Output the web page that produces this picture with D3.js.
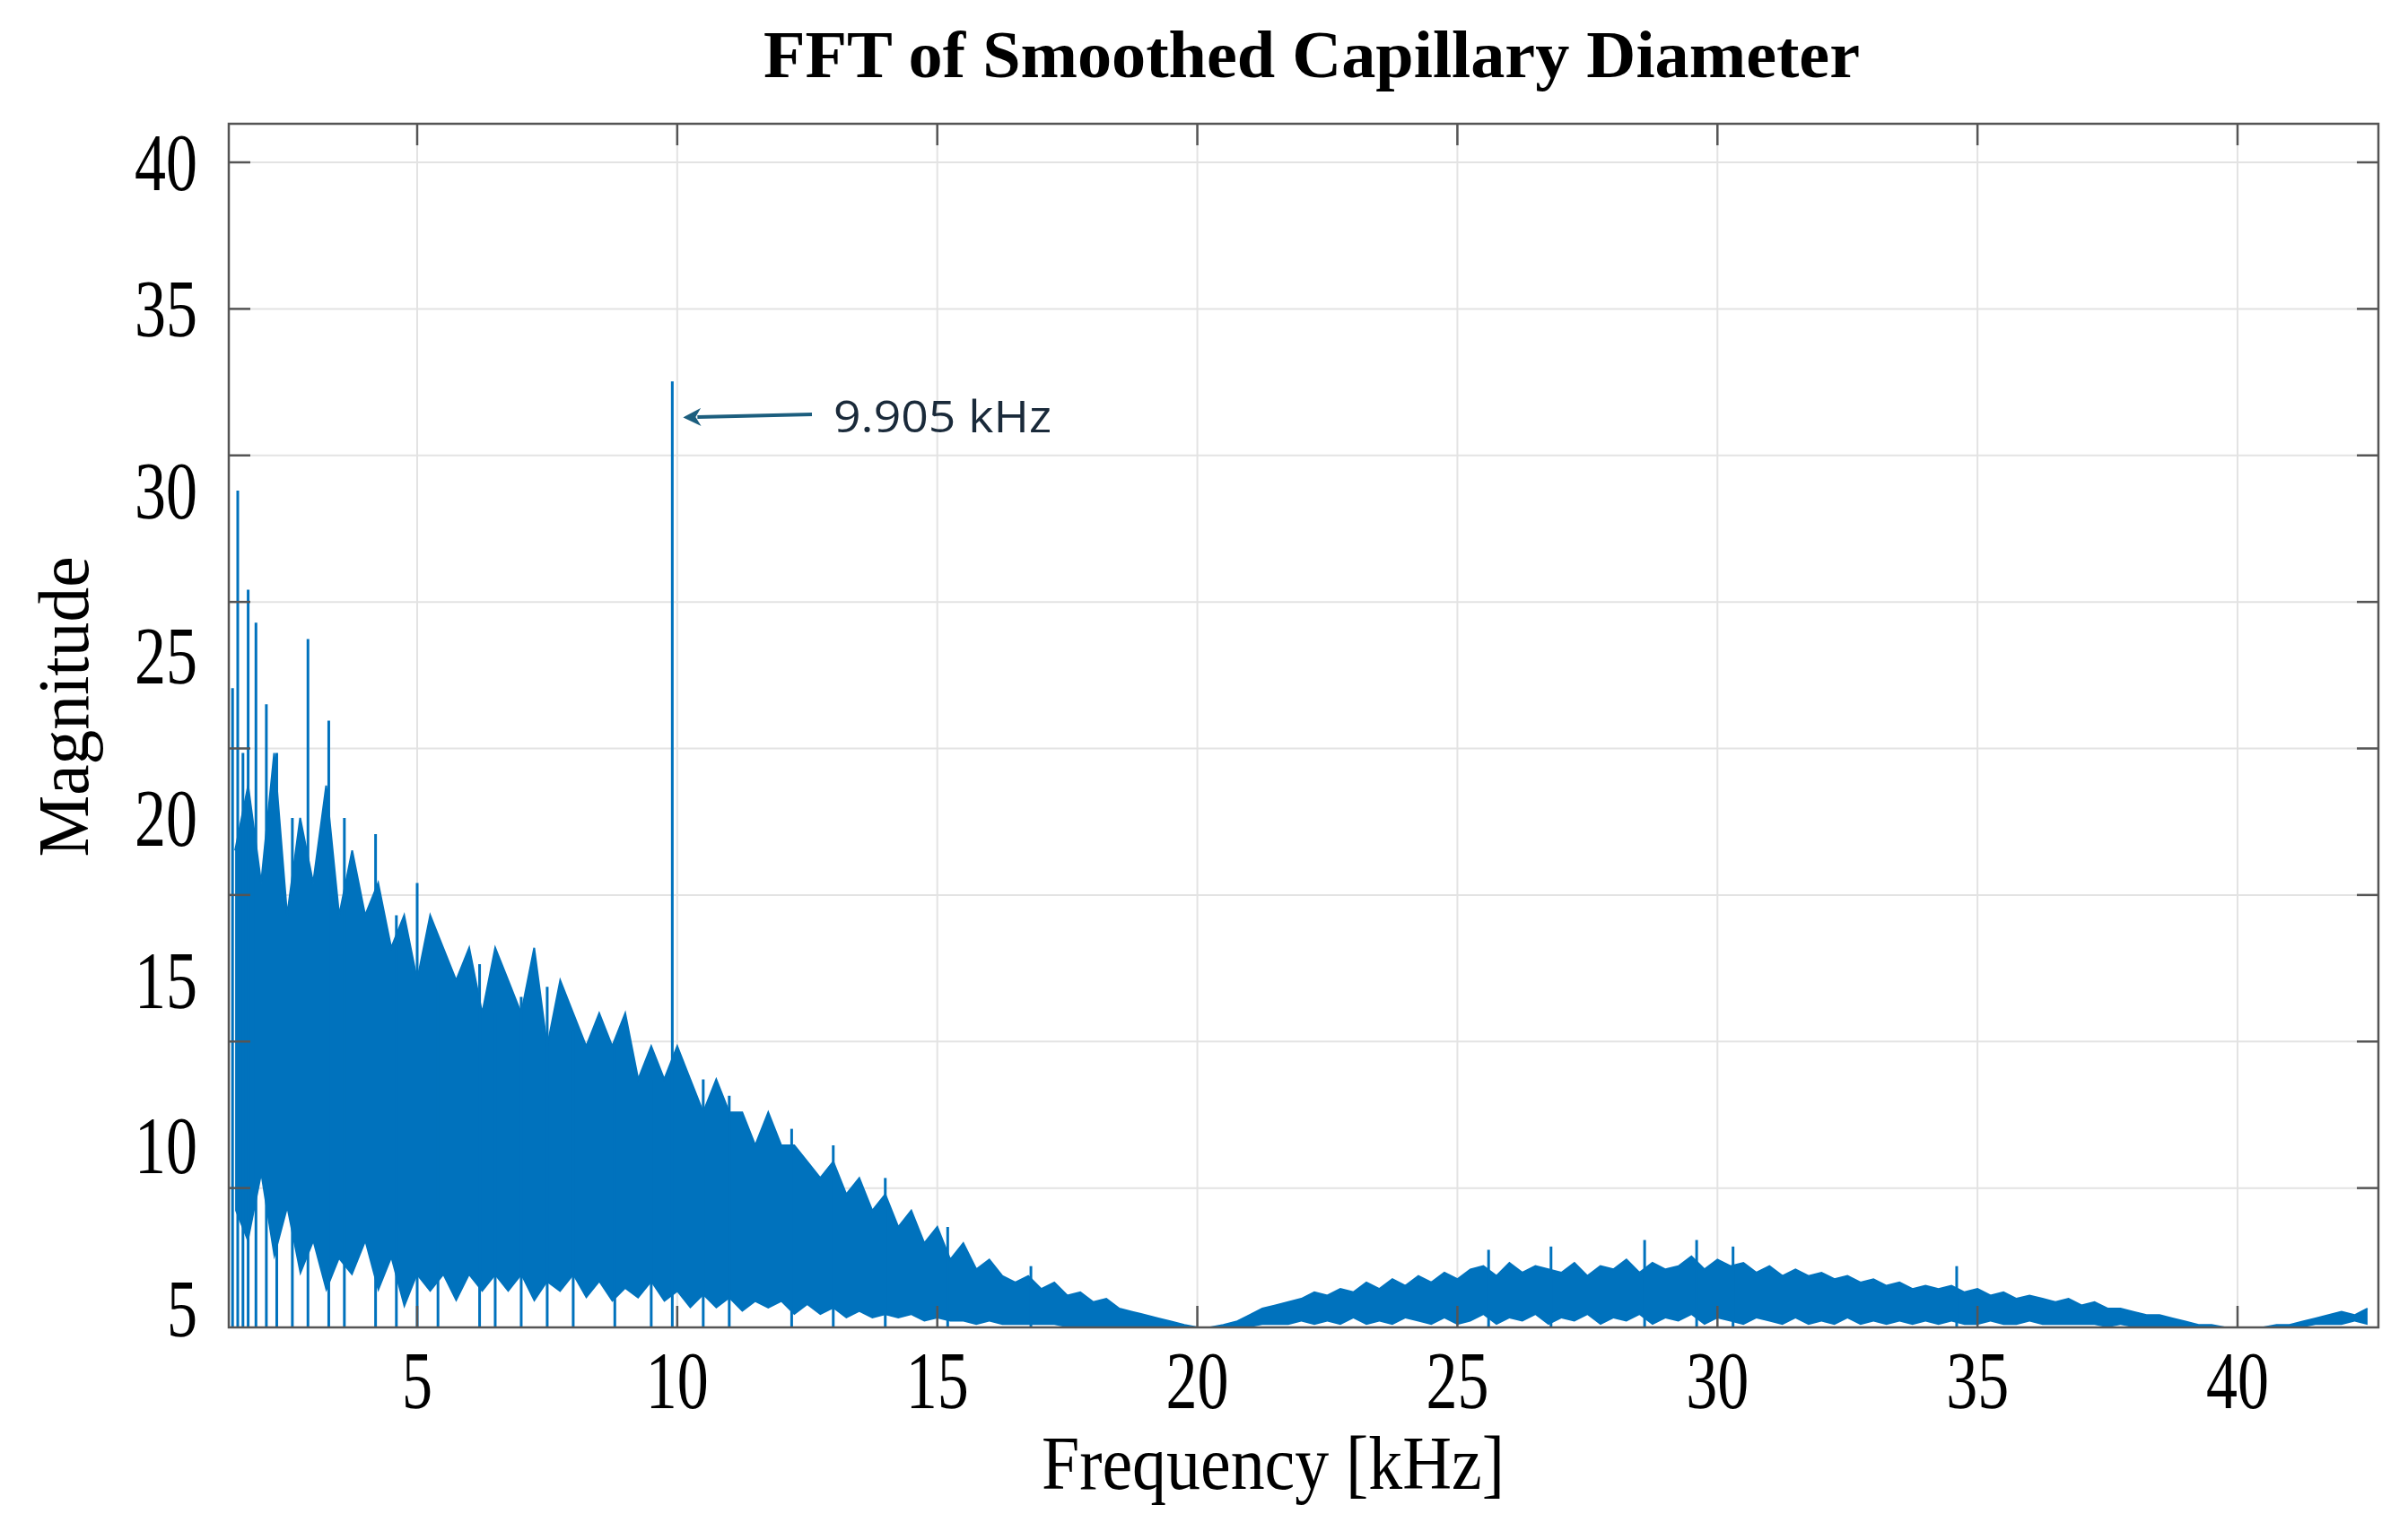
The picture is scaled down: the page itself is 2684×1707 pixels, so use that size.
<!DOCTYPE html>
<html><head><meta charset="utf-8">
<script src="https://cdn.jsdelivr.net/npm/d3@7/dist/d3.min.js"></script>
<style>body{margin:0;background:#fff}</style></head>
<body><svg id="c" width="2684" height="1707"></svg>
<script>
const xTicks=[5,10,15,20,25,30,35,40];
const yTicks=[5,10,15,20,25,30,35,40];
const fStart=1.5, fStep=0.25;
const highEnv=[19,21,18,22,17,20,18,21,17,19,17,
18,16,17,15,17,16,15,16,14,16,
15,14,16,13,15,14,13,14,13,14,
12,13,12,13,12,11,12,11,11,10,
11,10,10,9.5,9,9.5,8.5,9,8,8.5,
7.5,8,7,7.5,6.5,7,6.2,6.5,6,5.8,
6,5.6,5.8,5.4,5.5,5.2,5.3,5,4.9,4.8,
4.7,4.6,4.5,4.4,4.4,4.5,4.6,4.8,5,5.1,
5.2,5.3,5.5,5.4,5.6,5.5,5.8,5.6,5.9,5.7,
6,5.8,6.1,5.9,6.2,6.3,6,6.4,6.1,6.3,
6.2,6.1,6.4,6,6.3,6.2,6.5,6.1,6.4,6.2,
6.3,6.6,6.2,6.5,6.3,6.4,6.1,6.3,6,6.2,
6,6.1,5.9,6,5.8,5.9,5.7,5.8,5.6,5.7,
5.6,5.7,5.5,5.6,5.4,5.5,5.3,5.4,5.3,5.2,
5.3,5.1,5.2,5,5,4.9,4.8,4.8,4.7,4.6,
4.5,4.5,4.4,4.4,4.4,4.4,4.5,4.5,4.6,4.7,
4.8,4.9,4.8,5];
const lowEnv=[8,7,9,6.5,8,6,7,5.5,6.5,6,7,
5.5,6.5,5,6,5.5,6,5.2,6,5.5,6,
5.5,6,5.2,5.8,5.5,6,5.3,5.8,5.2,5.6,
5.3,5.8,5.2,5.5,5,5.4,5,5.3,4.9,5.2,
5,5.2,4.8,5.1,4.8,5,4.7,4.9,4.7,4.8,
4.7,4.8,4.6,4.7,4.6,4.6,4.5,4.6,4.5,4.5,
4.5,4.5,4.5,4.4,4.4,4.4,4.4,4.4,4.4,4.4,
4.4,4.4,4.4,4.4,4.4,4.4,4.4,4.4,4.5,4.5,
4.5,4.6,4.5,4.6,4.5,4.7,4.5,4.6,4.5,4.7,
4.6,4.5,4.7,4.5,4.6,4.8,4.5,4.7,4.6,4.8,
4.5,4.7,4.6,4.8,4.5,4.7,4.6,4.8,4.5,4.7,
4.6,4.8,4.5,4.7,4.6,4.5,4.7,4.6,4.5,4.7,
4.5,4.6,4.5,4.7,4.5,4.6,4.5,4.6,4.5,4.6,
4.5,4.6,4.5,4.5,4.6,4.5,4.5,4.6,4.5,4.5,
4.5,4.5,4.5,4.4,4.5,4.4,4.4,4.4,4.4,4.4,
4.4,4.4,4.4,4.4,4.4,4.4,4.4,4.4,4.4,4.5,
4.5,4.5,4.6,4.5];
const spikeF=[1.45,1.55,1.65,1.75,1.9,2.1,2.3,2.6,2.9,3.3,3.6,4.2,4.6,5.0,5.4,6.2,6.5,7.0,7.5,8.0,8.8,9.5,9.905,10.5,11.0,12.2,13.0,14.0,15.2,16.8,25.6,26.8,28.6,29.6,30.3,34.6];
const spikeV=[24,30,22,27,26,23.5,22,20,25.5,23,20,19.5,17,18,15,15.5,14,14.5,14.8,13.5,13,12,33,12,11.5,10.5,10,9,7.5,6.3,6.8,6.9,7.1,7.1,6.9,6.3];
const annotation="9.905 kHz";

const svg=d3.select("#c");
const L=255,R=2651,T=138,B=1480;
const x=d3.scaleLinear().domain([5,40]).range([465,2494]);
const yGrid=d3.scaleLinear().domain([0,40]).range([1488,181]);
const yLab=d3.scaleLinear().domain(yTicks).range([1459,1277,1093,912,731,547,344,181]);
const y=v=>Math.min(B,yLab(v));
const blue="#0072BD";

svg.append("g").selectAll("line").data(xTicks).join("line")
 .attr("x1",d=>x(d)).attr("x2",d=>x(d)).attr("y1",T).attr("y2",B).attr("stroke","#e3e3e3").attr("stroke-width",2);
svg.append("g").selectAll("line").data(yTicks).join("line")
 .attr("y1",d=>yGrid(d)).attr("y2",d=>yGrid(d)).attr("x1",L).attr("x2",R).attr("stroke","#e3e3e3").attr("stroke-width",2);

const pts=highEnv.map((h,i)=>({f:fStart+i*fStep,h,l:lowEnv[i]}));
svg.append("clipPath").attr("id","cp").append("rect").attr("x",L).attr("y",T).attr("width",R-L).attr("height",B-T);
const g=svg.append("g").attr("clip-path","url(#cp)");
g.append("path").datum(pts).attr("fill",blue)
 .attr("d",d3.area().x(d=>x(d.f)).y0(d=>y(d.l)).y1(d=>y(d.h)));
g.append("path").datum(pts).attr("fill","none").attr("stroke",blue).attr("stroke-width",2)
 .attr("d",d3.line().x(d=>x(d.f)).y(d=>y(d.h)));
g.selectAll("line.sp").data(spikeF).join("line").attr("class","sp")
 .attr("x1",d=>x(d)).attr("x2",d=>x(d)).attr("y1",B).attr("y2",(d,i)=>y(spikeV[i]))
 .attr("stroke",blue).attr("stroke-width",3);

svg.append("rect").attr("x",L).attr("y",T).attr("width",R-L).attr("height",B-T).attr("fill","none").attr("stroke","#555").attr("stroke-width",2.5);
const tk=svg.append("g").attr("stroke","#555").attr("stroke-width",2.5);
xTicks.forEach(d=>{tk.append("line").attr("x1",x(d)).attr("x2",x(d)).attr("y1",B).attr("y2",B-24);
 tk.append("line").attr("x1",x(d)).attr("x2",x(d)).attr("y1",T).attr("y2",T+24);});
yTicks.forEach(d=>{tk.append("line").attr("y1",yGrid(d)).attr("y2",yGrid(d)).attr("x1",L).attr("x2",L+24);
 tk.append("line").attr("y1",yGrid(d)).attr("y2",yGrid(d)).attr("x1",R).attr("x2",R-24);});

const serif="'Liberation Serif','Times New Roman',serif";
svg.append("g").selectAll("text").data(xTicks).join("text")
 .attr("x",d=>x(d)).attr("y",1570).attr("text-anchor","middle").attr("font-family",serif).attr("font-size",92)
 .attr("textLength",d=>d<10?34:70).attr("lengthAdjust","spacingAndGlyphs").text(d=>d);
svg.append("g").selectAll("text").data(yTicks).join("text")
 .attr("x",220).attr("y",d=>yLab(d)+31).attr("text-anchor","end").attr("font-family",serif).attr("font-size",92)
 .attr("textLength",d=>d<10?34:70).attr("lengthAdjust","spacingAndGlyphs").text(d=>d);

svg.append("text").attr("x",1419).attr("y",1660).attr("text-anchor","middle").attr("font-family",serif).attr("font-size",84)
 .attr("textLength",516).attr("lengthAdjust","spacingAndGlyphs").text("Frequency [kHz]");
svg.append("text").attr("transform","translate(98,788) rotate(-90)").attr("text-anchor","middle").attr("font-family",serif).attr("font-size",80)
 .attr("textLength",335).attr("lengthAdjust","spacingAndGlyphs").text("Magnitude");
svg.append("text").attr("x",1462).attr("y",86).attr("text-anchor","middle").attr("font-family",serif).attr("font-weight","bold").attr("font-size",74)
 .attr("textLength",1222).attr("lengthAdjust","spacingAndGlyphs").text("FFT of Smoothed Capillary Diameter");

const ac="#1c5e7e";
svg.append("defs").append("marker").attr("id","ah").attr("viewBox","0 0 10 10").attr("refX",2).attr("refY",5)
 .attr("markerWidth",5).attr("markerHeight",5).attr("orient","auto")
 .append("path").attr("d","M10,5 L0,0 L3,5 L0,10 Z").attr("fill",ac);
svg.append("line").attr("x1",905).attr("y1",462).attr("x2",x(9.905)+28).attr("y2",465).attr("stroke",ac).attr("stroke-width",4).attr("marker-end","url(#ah)");
svg.append("text").attr("x",929).attr("y",482).attr("font-family","'Open Sans','DejaVu Sans',sans-serif").attr("font-size",50)
 .attr("textLength",243).attr("lengthAdjust","spacingAndGlyphs").attr("fill","#1a2a3a").text(annotation);
</script></body></html>
